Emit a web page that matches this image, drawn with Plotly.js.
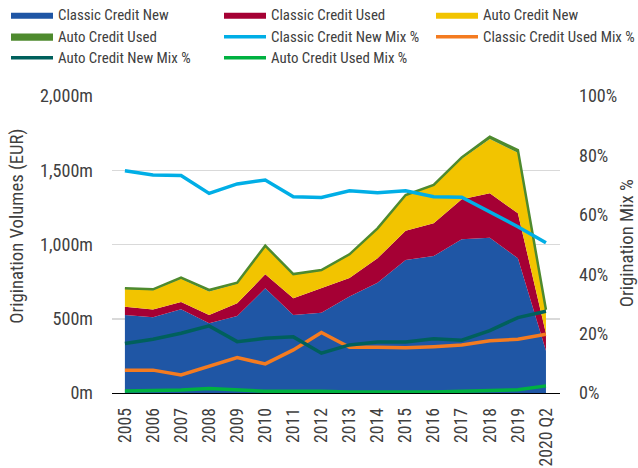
<!DOCTYPE html>
<html>
<head>
<meta charset="utf-8">
<script src="https://cdn.plot.ly/plotly-3.0.1.min.js"></script>
<style>html,body{margin:0;padding:0;background:#fff;}#chart{width:638px;height:468px;}</style>
</head>
<body>
<div id="chart"></div>
<script>
const categories = ["2005","2006","2007","2008","2009","2010","2011","2012","2013","2014","2015","2016","2017","2018","2019","2020 Q2"];
const classicNew  = [525,510,564,469,518,705,525,541,650,743,896,922,1035,1046,907,285];
const classicUsed = [56,53,49,56,86,94,113,164,125,164,197,221,269,299,303,115];
const autoNew     = [119,129,156,159,132,187,158,118,156,199,236,254,273,365,408,147];
const autoUsed    = [5,6,8,10,7,6,5,5,3,3,4,4,10,16,18,13];
const classicNewMix  = [74.8,73.4,73.2,67.2,70.4,71.7,66.1,65.8,68.1,67.4,68.1,66.1,65.9,61.0,56.0,50.6];
const classicUsedMix = [7.7,7.7,6.1,9.1,11.9,9.8,14.5,20.4,15.4,15.4,15.2,15.6,16.2,17.6,18.1,19.8];
const autoNewMix     = [16.7,18.1,20.1,22.6,17.3,18.4,18.9,13.4,16.2,17.2,17.2,18.3,17.8,21.0,25.4,27.5];
const autoUsedMix    = [0.7,0.8,1.0,1.5,1.0,0.6,0.6,0.6,0.3,0.3,0.3,0.3,0.6,0.9,1.1,2.4];
const seriesNames = ['Classic Credit New','Classic Credit Used','Auto Credit New','Auto Credit Used',
  'Classic Credit New Mix %','Classic Credit Used Mix %','Auto Credit New Mix %','Auto Credit Used Mix %'];

const FONT = "'Roboto Condensed','Liberation Sans Narrow','DejaVu Sans Condensed',sans-serif";
const TXT = '#404040';

// size fonts so that reference strings get the measured pixel widths
const ctx = document.createElement('canvas').getContext('2d');
function fit(text, target){
  ctx.font = '100px ' + FONT;
  return Math.round(100 * target / ctx.measureText(text).width * 10) / 10;
}
const legendSize = fit('Classic Credit New', 111);
const yTickSize = fit('2,000m', 53);
const xTickSize = fit('2005', 35);
const titleSize = fit('Origination Volumes (EUR)', 195);

function area(i, y, color, lw){
  return {type:'scatter', mode:'lines', name:seriesNames[i], x:categories, y:y, stackgroup:'one',
    fillcolor:color, line:{color:color, width:lw}, hoverinfo:'skip', legend: i===0 ? 'legend' : 'legend'+(i+1)};
}
function mix(i, y, color){
  return {type:'scatter', mode:'lines', name:seriesNames[i], x:categories, y:y, yaxis:'y2',
    line:{color:color, width:3.5}, hoverinfo:'skip', legend:'legend'+(i+1)};
}
const data = [
  area(0, classicNew, '#1f56a5', 0),
  area(1, classicUsed, '#a50034', 0),
  area(2, autoNew, '#f2c400', 0),
  area(3, autoUsed, '#4e8a2e', 2.5),
  mix(4, classicNewMix, '#00aee6'),
  mix(5, classicUsedMix, '#f47b20'),
  mix(6, autoNewMix, '#00605c'),
  mix(7, autoUsedMix, '#00b140')
];

// legend grid: 3 columns, 3 rows
const colX = [6, 219, 431];
const rowY = [15, 37, 58];
function legendAt(k){
  const col = k % 3, row = Math.floor(k / 3);
  return {orientation:'v', xref:'container', yref:'container', x:colX[col]/638, y:1 - rowY[row]/468,
    xanchor:'left', yanchor:'middle', itemwidth:42, bgcolor:'rgba(0,0,0,0)',
    font:{family:FONT, size:legendSize, color:TXT}};
}

const layout = {
  width:638, height:468,
  margin:{l:112, r:78, t:96, b:75, autoexpand:false},
  paper_bgcolor:'#fff', plot_bgcolor:'#fff',
  font:{family:FONT, size:yTickSize, color:TXT},
  showlegend:true,
  xaxis:{type:'category', range:[-0.46,15.5], tickangle:-90, showgrid:false, showline:true, linecolor:'#000', linewidth:1,
    ticks:'', zeroline:false, ticklabelstandoff:7, tickfont:{family:FONT, size:xTickSize, color:TXT}, fixedrange:true,
    automargin:false},
  yaxis:{range:[0,2000], dtick:500, tickformat:',d', ticksuffix:'m', showgrid:true, gridcolor:'#d9d9d9', gridwidth:1.5,
    zeroline:false, showline:false, ticks:'', ticklabelstandoff:18, tickfont:{family:FONT, size:yTickSize, color:TXT},
    automargin:false},
  yaxis2:{range:[0,100], dtick:20, ticksuffix:'%', overlaying:'y', side:'right', showgrid:false, zeroline:false,
    showline:false, ticks:'', ticklabelstandoff:18, tickfont:{family:FONT, size:yTickSize, color:TXT}, automargin:false},
  annotations:[
    {text:'Origination Volumes (EUR)', xref:'paper', yref:'paper', x:-0.212, y:0.56, textangle:-90, showarrow:false,
      font:{family:FONT, size:titleSize, color:TXT}, xanchor:'center', yanchor:'middle'},
    {text:'Origination Mix %', xref:'paper', yref:'paper', x:1.15, y:0.505, textangle:-90, showarrow:false,
      font:{family:FONT, size:titleSize, color:TXT}, xanchor:'center', yanchor:'middle'}
  ]
};
for (let k = 0; k < 8; k++) layout[k === 0 ? 'legend' : 'legend' + (k + 1)] = legendAt(k);

Plotly.newPlot('chart', data, layout, {staticPlot:true, displayModeBar:false});
</script>
</body>
</html>
